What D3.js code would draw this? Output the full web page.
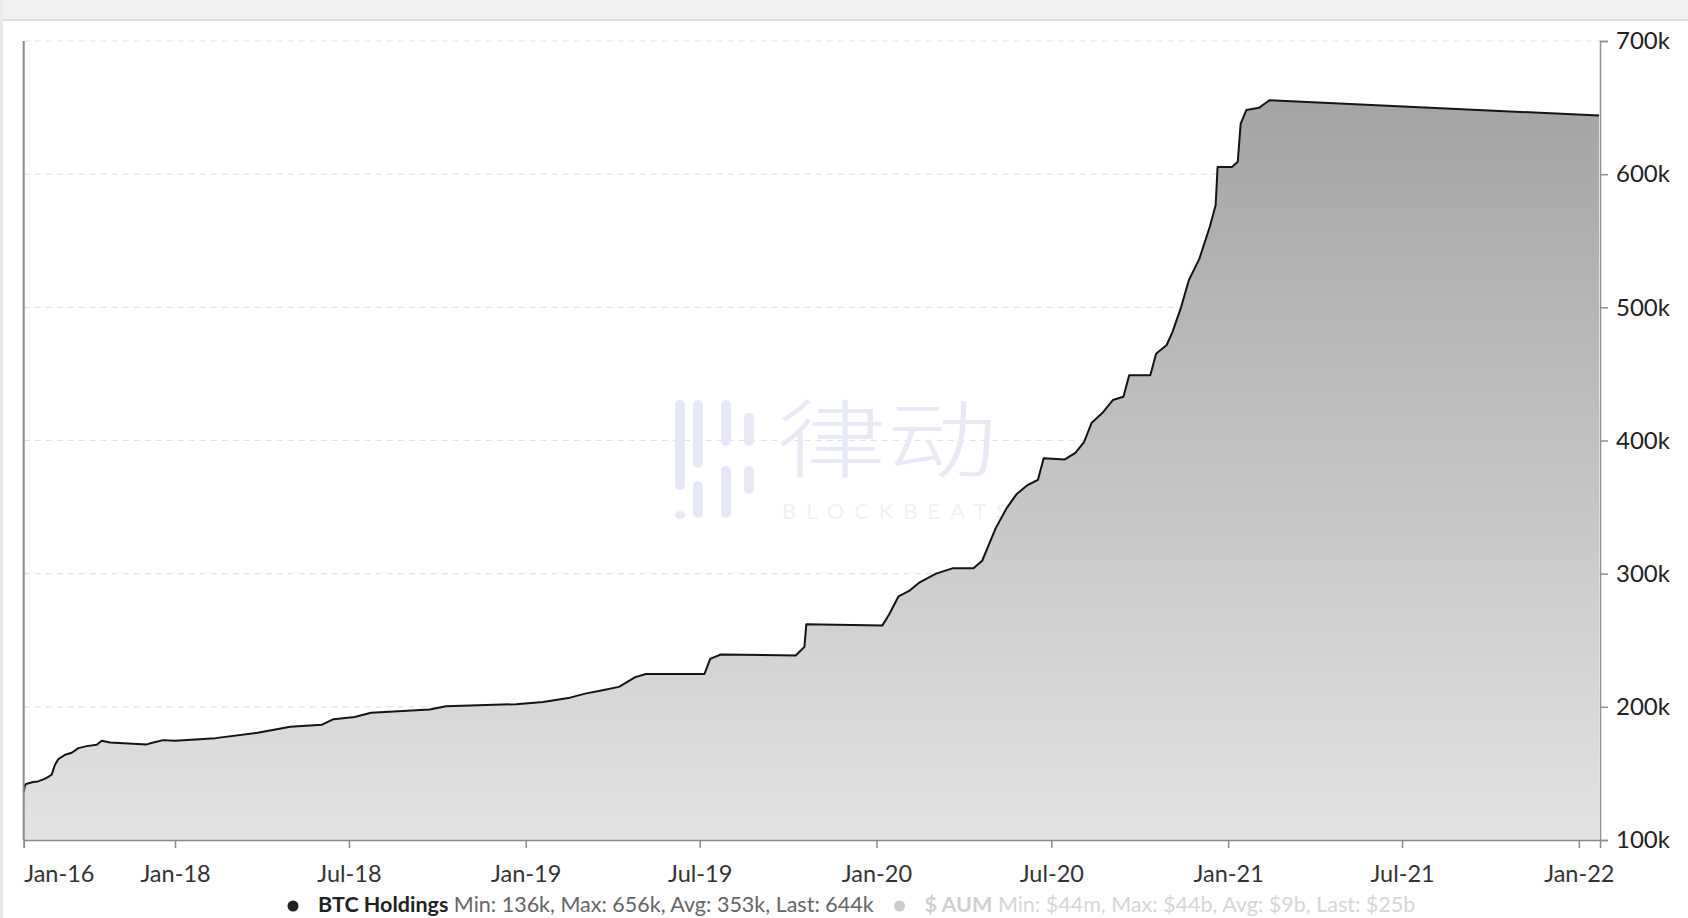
<!DOCTYPE html>
<html>
<head>
<meta charset="utf-8">
<script src="https://cdn.jsdelivr.net/npm/d3@7"></script>
<style>
  html, body { margin: 0; padding: 0; background: #ffffff; overflow: hidden; }
  svg { display: block; }
</style>
</head>
<body>
<div id="chart"></div>
<script>
// ---------- data (BTC holdings, thousands of BTC) ----------
const dates = [
  '2016-01-01','2016-01-07','2016-01-12','2016-02-16','2016-03-10','2016-04-05','2016-04-25','2016-05-15',
  '2016-05-31','2016-06-16','2016-07-19','2016-08-20','2016-09-21','2016-10-31','2016-12-19','2017-01-12',
  '2017-02-21','2017-08-17','2017-09-18','2017-11-05','2018-01-01',
  '2018-02-12','2018-03-28','2018-05-01','2018-06-03','2018-06-15','2018-07-07','2018-07-24','2018-09-23',
  '2018-10-10','2018-12-22','2019-01-19','2019-02-16','2019-03-05','2019-03-22','2019-04-08','2019-04-25',
  '2019-05-06','2019-07-06','2019-07-12','2019-07-23','2019-10-09','2019-10-18','2019-10-20','2020-01-07',
  '2020-01-14','2020-01-24','2020-02-04','2020-02-15','2020-03-03','2020-03-20','2020-04-11','2020-04-20',
  '2020-04-26','2020-05-04','2020-05-15','2020-05-26','2020-06-06','2020-06-17','2020-06-23','2020-07-15',
  '2020-07-26','2020-08-04','2020-08-12','2020-08-23','2020-09-03','2020-09-14','2020-09-20','2020-10-12',
  '2020-10-18','2020-10-29','2020-11-04','2020-11-13','2020-11-21','2020-12-02','2020-12-13','2020-12-19',
  '2020-12-21','2021-01-05','2021-01-11','2021-01-14','2021-01-20','2021-02-02','2021-02-13','2022-01-22'
];
const btcHoldings = [
  136,141,142,143.5,144,145.5,147,149,
  156.5,160.7,164,165.5,169,170.5,171.5,174.5,
  173.2,171.8,173.2,175,174.5,
  176.5,180.5,185,186.6,190.7,192.3,195.5,198,
  200.4,202,203.6,206.9,210.1,212.5,215,222.3,
  224.7,224.7,236,239.3,238.5,245,262,261,
  269.2,283,287,293.5,300,304,304,309.7,
  320.2,334,348.6,359.9,366.4,370.4,386.6,385.8,
  390.7,398.8,413.4,420.6,430.4,432.8,449,449,
  465.2,471.7,481.4,500,520.2,536.4,560.7,576.9,
  605.3,605.3,609.3,637.7,648.2,649.8,655.5,644
];
const xTickDates = ['2016-01-01','2018-01-01','2018-07-01','2019-01-01','2019-07-01',
                    '2020-01-01','2020-07-01','2021-01-01','2021-07-01','2022-01-01'];
const yTicks = [100,200,300,400,500,600,700];
const legendItems = [
  { name: 'BTC Holdings', stats: 'Min: 136k, Max: 656k, Avg: 353k, Last: 644k', active: true },
  { name: '$ AUM', stats: 'Min: $44m, Max: $44b, Avg: $9b, Last: $25b', active: false }
];
// x-axis is broken: first segment (Jan-16 .. Jan-18) is compressed
const xBreaks = ['2016-01-01','2018-01-01','2022-01-23'];

// ---------- layout ----------
const W = 1688, H = 918;
const plot = { left: 23.7, right: 1600, top: 41, bottom: 840 };
const compressedFrac = 0.096;

const parse = d3.utcParse('%Y-%m-%d');
const data = dates.map((d, i) => ({ date: parse(d), v: btcHoldings[i] }));

const pw = plot.right - plot.left;
const x = d3.scaleUtc()
  .domain(xBreaks.map(parse))
  .range([plot.left, plot.left + pw * compressedFrac, plot.right]);
const y = d3.scaleLinear().domain([100, 700]).range([plot.bottom, plot.top]);

const svg = d3.select('#chart').append('svg')
  .attr('width', W).attr('height', H)
  .style('font-family', 'Lato, "Open Sans", sans-serif');

// header strip (cropped toolbar)
svg.append('rect').attr('x', 0).attr('y', 0).attr('width', W).attr('height', 19).attr('fill', '#f1f1f1');
svg.append('rect').attr('x', 0).attr('y', 19).attr('width', W).attr('height', 2).attr('fill', '#dcdcdc');
svg.append('rect').attr('x', 0).attr('y', 0).attr('width', 3).attr('height', H).attr('fill', '#e9e9e9');

const defs = svg.append('defs');
const grad = defs.append('linearGradient').attr('id', 'areaGrad')
  .attr('gradientUnits', 'userSpaceOnUse')
  .attr('x1', 0).attr('x2', 0).attr('y1', y(700)).attr('y2', y(100));
grad.append('stop').attr('offset', '0%').attr('stop-color', '#9f9f9f');
grad.append('stop').attr('offset', '100%').attr('stop-color', '#e3e3e3');

// grid lines
svg.append('g').selectAll('line').data(yTicks.filter(t => t > 100)).join('line')
  .attr('x1', plot.left).attr('x2', plot.right)
  .attr('y1', d => y(d)).attr('y2', d => y(d))
  .attr('stroke', '#e2e2e2').attr('stroke-width', 1.2).attr('stroke-dasharray', '6,5');

// watermark (BlockBeats)
const wm = svg.append('g').attr('fill', '#e6e9f5');
const bars = [
  { cx: 680, segs: [[400, 490], [511, 518]] },
  { cx: 698, segs: [[400, 468], [481, 518]] },
  { cx: 726, segs: [[400, 446], [466, 518]] },
  { cx: 749, segs: [[413, 446], [466, 494]] }
];
bars.forEach(b => b.segs.forEach(s => {
  wm.append('rect').attr('x', b.cx - 5).attr('y', s[0]).attr('width', 10)
    .attr('height', Math.max(s[1] - s[0], 8)).attr('rx', 5);
}));
wm.append('text').attr('transform', 'translate(776,471) scale(1.3,1)')
  .style('font-family', '"Noto Sans CJK SC", sans-serif').style('font-weight', 300)
  .style('font-size', '85px').attr('fill', '#e7eaf4').text('律动');
wm.append('text').attr('x', 782).attr('y', 519)
  .style('font-family', 'Lato, sans-serif').style('font-size', '22px')
  .attr('fill', '#eff1f7').attr('textLength', 226).attr('lengthAdjust', 'spacing').text('BLOCKBEATS');

// area + line
const area = d3.area().x(d => x(d.date)).y0(y(100)).y1(d => y(d.v));
const line = d3.line().x(d => x(d.date)).y(d => y(d.v));
svg.append('path').datum(data).attr('d', area).attr('fill', 'url(#areaGrad)');
svg.append('path').datum(data).attr('d', line)
  .attr('fill', 'none').attr('stroke', '#141414').attr('stroke-width', 2).attr('stroke-linejoin', 'round');

// left axis line
svg.append('line').attr('x1', plot.left).attr('x2', plot.left).attr('y1', plot.top).attr('y2', plot.bottom)
  .attr('stroke', '#8a8a8a').attr('stroke-width', 2);

// bottom axis
const fmt = d3.utcFormat('%b-%y');
const xAxis = svg.append('g').attr('transform', `translate(0,${plot.bottom})`)
  .call(d3.axisBottom(x).tickValues(xTickDates.map(parse)).tickFormat(fmt).tickSizeOuter(0).tickSize(8).tickPadding(17));
xAxis.select('.domain').attr('stroke', '#8a8a8a').attr('stroke-width', 1.5);
xAxis.selectAll('.tick line').attr('stroke', '#8a8a8a').attr('stroke-width', 1.5);
xAxis.selectAll('.tick text').style('font-size', '23.5px').attr('fill', '#333').style('font-family', 'Lato, sans-serif');
xAxis.selectAll('.tick text').filter((d, i) => i === 0).attr('text-anchor', 'start');

// right axis
const yAxis = svg.append('g').attr('transform', `translate(${plot.right},0)`)
  .call(d3.axisRight(y).tickValues(yTicks).tickFormat(d => d + 'k').tickSizeOuter(0).tickSize(8).tickPadding(8));
yAxis.select('.domain').attr('stroke', '#8f8f8f').attr('stroke-width', 1.5);
yAxis.selectAll('.tick line').attr('stroke', '#8f8f8f').attr('stroke-width', 1.5);
yAxis.selectAll('.tick text').style('font-size', '24px').attr('fill', '#222').style('font-family', 'Lato, sans-serif');

// legend (sits at the very bottom edge)
const lg = svg.append('g').style('font-family', 'Lato, sans-serif').style('font-size', '21.5px');
let lx = 293;
legendItems.forEach((it, i) => {
  lg.append('circle').attr('cx', lx).attr('cy', 906).attr('r', 5.5).attr('fill', it.active ? '#222' : '#cccccc');
  const t = lg.append('text').attr('x', lx + 25).attr('y', 912);
  t.append('tspan').style('font-weight', 700).attr('fill', it.active ? '#222' : '#cfcfcf').text(it.name);
  t.append('tspan').attr('fill', it.active ? '#666' : '#d6d6d6').text(' ' + it.stats);
  const w = t.node().getComputedTextLength();
  lx = lx + 25 + w + 26;
});
</script>
</body>
</html>
